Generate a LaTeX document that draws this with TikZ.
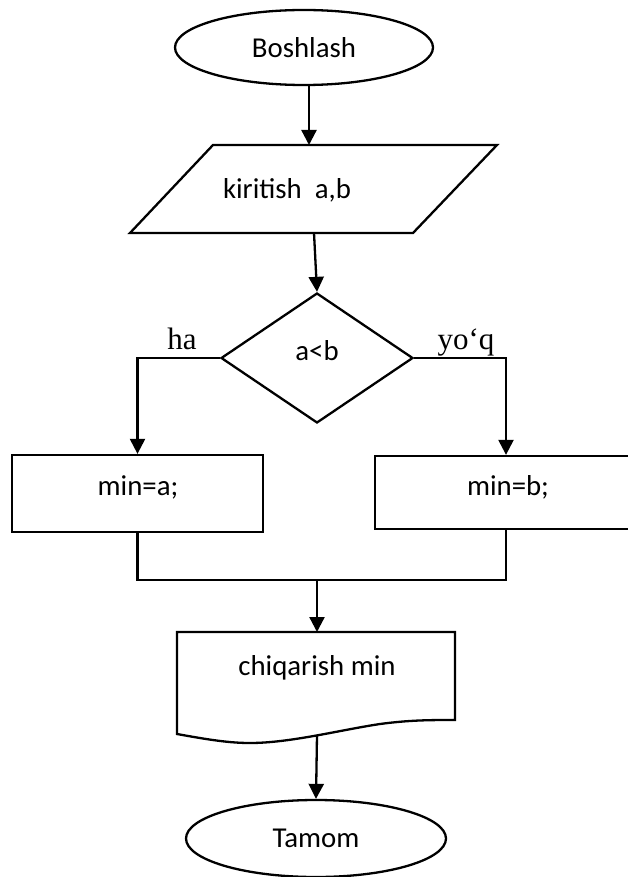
\documentclass[tikz,border=0pt]{standalone}
\usepackage{fontspec}
\setmainfont{Carlito}
\newfontfamily\tnrfont{Liberation Serif}
\usetikzlibrary{shapes.geometric,arrows.meta}
\begin{document}
\begin{tikzpicture}[x=1pt,y=-1pt,
  line width=2.3pt,
  every node/.style={inner sep=0pt, font=\fontsize{28.8}{34}\selectfont},
  term/.style={ellipse, draw, minimum width=258pt, minimum height=75pt},
  proc/.style={draw, rectangle},
  dec/.style={diamond, draw, minimum width=192pt, minimum height=130pt},
  txt/.style={anchor=base},
  yn/.style={anchor=base, font=\tnrfont\fontsize{31}{36}\selectfont},
  arr/.style={-{Triangle[width=15pt,length=15pt]}},
]
\useasboundingbox (0,0) rectangle (627,877);

% start
\node[term] (start) at (304,47.5) {Boshlash};
\coordinate (intop) at (309,145);
\draw[arr] ([xshift=5pt]start.south) -- (intop);

% input parallelogram
\draw (213,145) -- (497,145) -- (413,233) -- (130,233) -- cycle;
\node[txt] (in) at (287,199) {kiritish\ \ a,b};
\coordinate (inbot) at (314,233);

% decision
\node[dec] (cond) at (317,358) {};
\node[txt] (condt) at (317,360) {a<b};
\draw[arr] (inbot) -- (cond.north);
\node[yn] (ha) at (182,349) {ha};
\node[yn] (yoq) at (466,349) {yo‘q};

% process boxes
\node[proc, minimum width=251pt, minimum height=77pt] (boxa) at (137.5,493.5) {};
\node[proc, minimum width=262pt, minimum height=73pt] (boxb) at (506,492.5) {};
\node[txt] (ta) at (138,495) {min=a;};
\node[txt] (tb) at (508,495) {min=b;};
\draw[arr] (cond.west) -| (boxa.north);
\draw[arr] (cond.east) -| (boxb.north);

% merge
\coordinate (merge) at (317,580);
\draw (boxa.south) |- (merge);
\draw (boxb.south) |- (merge);

% output document
\coordinate (outtop) at (317,632);
\draw[arr] (merge) -- (outtop);
\draw (177,734) -- (177,632) -- (455,632) -- (455,720)
  .. controls (430,720) and (410,720) .. (380,724)
  .. controls (340,730) and (290,743) .. (250,743)
  .. controls (230,743) and (210,740) .. (177,734) -- cycle;
\node[txt] (out) at (317,675) {chiqarish min};
\coordinate (outbot) at (317,735);

% end
\node[term, minimum width=260pt, minimum height=77pt] (stop) at (316,838.5) {Tamom};
\draw[arr] (outbot) -- (stop.north);
\end{tikzpicture}
\end{document}
